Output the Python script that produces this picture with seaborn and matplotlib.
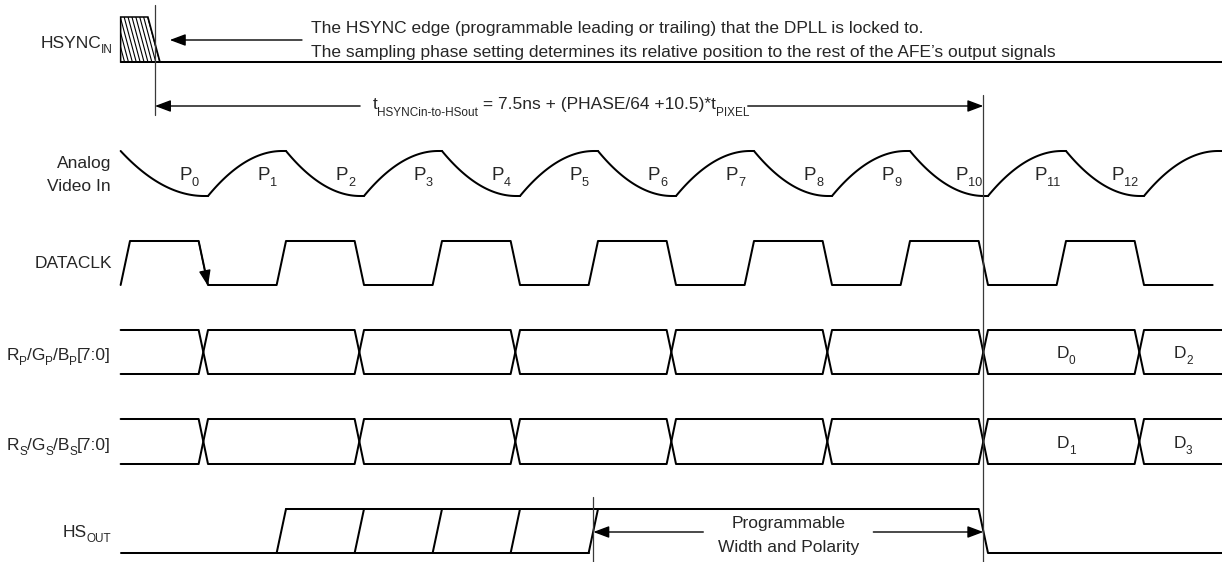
import numpy as np
import pandas as pd
import seaborn as sns
from matplotlib import pyplot as plt
from matplotlib.patches import Polygon
from matplotlib.transforms import IdentityTransform

# timing values, in pixel periods (t_PIXEL); P0 starts at t = 0
pixel_index = [0, 1, 2, 3, 4, 5, 6, 7, 8, 9, 10, 11, 12]
video_turns = [-0.12, 1, 2, 3, 4, 5, 6, 7, 8, 9, 10, 11, 12, 13, 14]
video_high = [1, 0, 1, 0, 1, 0, 1, 0, 1, 0, 1, 0, 1, 0, 1]
clk_rise = [0, 2, 4, 6, 8, 10, 12]
clk_fall = [1, 3, 5, 7, 9, 11, 13]
clk_stop = 13.88
bus_switch = [1, 3, 5, 7, 9, 11, 13]
bus_p_words = ["", "", "", "", "", "", "0", "2"]
bus_s_words = ["", "", "", "", "", "", "1", "3"]
hsout_rise = [2, 3, 4, 5, 6]
hsout_fall = 11
hsync_edge = 0.31

# layout (pixel rows) and drawing style
T0, T1 = -0.12, 14.0
EDGE = 0.12
FLAT = 0.05
rows = {
    "hsync": (17, 62),
    "video": (151, 196),
    "clk": (241, 285),
    "bus_p": (330, 374),
    "bus_s": (419, 464),
    "hsout": (509, 553),
}
LABEL_X = -0.245
FS = 12.5
SUB = 0.68

sns.set_theme(style="white")
plt.rcParams["font.family"] = ["Liberation Sans", "DejaVu Sans"]

fig = plt.figure(figsize=(12.22, 5.62), dpi=100)
ax = fig.add_axes([0, 0, 1, 1])
ax.set_xlim(-130 / 78, 14)
ax.set_ylim(562, 0)
ax.axis("off")

traces = []


def add(name, xs, ys):
    traces.append(pd.DataFrame({"x": xs, "y": ys, "trace": name}))


# analog video: arcs between turning points
hi, lo = rows["video"]
for i in range(len(video_turns) - 1):
    a = hi if video_high[i] else lo
    b = hi if video_high[i + 1] else lo
    x0, x1 = video_turns[i], video_turns[i + 1] - FLAT
    u = np.linspace(0, 1, 40)
    xs = list(x0 + (x1 - x0) * u) + [video_turns[i + 1]]
    ys = list(a + (b - a) * (1 - (1 - u) ** 2)) + [b]
    add(f"video{i}", xs, ys)

# dataclk
hi, lo = rows["clk"]
edges = sorted([(r, "r") for r in clk_rise] + [(f, "f") for f in clk_fall])
xs, ys = [T0], [lo]
for t, kind in edges:
    xs += [t - EDGE, t]
    ys += [lo, hi] if kind == "r" else [hi, lo]
xs.append(clk_stop)
ys.append(lo)
add("clk", xs, ys)

# data buses
for key in ["bus_p", "bus_s"]:
    hi, lo = rows[key]
    for start, other in [(hi, lo), (lo, hi)]:
        xs, ys = [T0], [start]
        cur, nxt = start, other
        for s in bus_switch:
            xs += [s - EDGE, s]
            ys += [cur, nxt]
            cur, nxt = nxt, cur
        xs.append(T1)
        ys.append(cur)
        add(f"{key}{start}", xs, ys)

# hs_out
hi, lo = rows["hsout"]
add("hs_low", [T0, hsout_rise[-1] - EDGE], [lo, lo])
add("hs_high", [hsout_rise[0], hsout_fall - EDGE, hsout_fall, T1], [hi, hi, lo, lo])
for r in hsout_rise:
    add(f"hs_rise{r}", [r - EDGE, r], [lo, hi])

# hsync_in baseline
add("hsync_base", [T0, T1], [rows["hsync"][1], rows["hsync"][1]])

wave = pd.concat(traces, ignore_index=True)
sns.lineplot(data=wave, x="x", y="y", units="trace", estimator=None, sort=False,
             color="black", linewidth=1.45, legend=False, ax=ax)

# hsync_in hatched edge window
top, base = rows["hsync"]
left_top, right_top, right_bot = T0, hsync_edge - 0.08, hsync_edge + 0.075
poly = Polygon([(left_top, top), (right_top, top), (right_bot, base), (left_top, base)],
               closed=True, fill=False, edgecolor="black", linewidth=1.1)
ax.add_patch(poly)
slant = right_bot - right_top
for xt in np.arange(left_top - slant, right_top, 0.05):
    ln, = ax.plot([xt, xt + slant], [top, base], color="black", lw=0.8)
    ln.set_clip_path(poly)

# reference lines
ref = "#3a3a3a"
ax.plot([hsync_edge + 0.01, hsync_edge + 0.01], [5, 115], color=ref, lw=0.9)
mark = hsout_fall - EDGE / 2
ax.plot([mark, mark], [95, 562], color=ref, lw=0.9)
mark2 = hsout_rise[-1] - EDGE / 2
ax.plot([mark2, mark2], [497, 562], color=ref, lw=0.9)

arrow = dict(arrowstyle="-|>,head_length=0.8,head_width=0.3", color="black",
             lw=1.0, shrinkA=0, shrinkB=0, mutation_scale=12)


def arr(x0, y0, x1, y1):
    ax.annotate("", xy=(x1, y1), xytext=(x0, y0), arrowprops=arrow)


arr(2.205, 40, hsync_edge + 0.2, 40)
arr(2.95, 106, hsync_edge + 0.01, 106)
arr(7.92, 106, mark, 106)
arr(7.35, 532, mark2, 532)
arr(9.53, 532, mark, 532)
hi, lo = rows["clk"]
arr(clk_fall[0] - EDGE, hi, clk_fall[0], lo + 1)

renderer = fig.canvas.get_renderer()


def rich(x, y, parts, ha="left", fs=FS, drop=6):
    # parts: (string, is_subscript); placed piece by piece in pixel space
    px, py = ax.transData.transform((x, y))
    items, widths = [], []
    for s, sub in parts:
        t = ax.text(0, 0, s, fontsize=fs * SUB if sub else fs, va="baseline",
                    transform=IdentityTransform())
        items.append((t, sub))
        widths.append(t.get_window_extent(renderer).width)
    total = sum(widths)
    cur = px - {"left": 0, "right": total, "center": total / 2}[ha]
    for (t, sub), w in zip(items, widths):
        t.set_position((cur, py - (drop if sub else 0)))
        cur += w


ax.text(2.32, 33, "The HSYNC edge (programmable leading or trailing) that the DPLL is locked to.",
        fontsize=FS, va="baseline")
ax.text(2.32, 57, "The sampling phase setting determines its relative position to the rest of the AFE\u2019s output signals",
        fontsize=FS, va="baseline")
rich(3.11, 109, [("t", 0), ("HSYNCin-to-HSout", 1), (" = 7.5ns + (PHASE/64 +10.5)*t", 0), ("PIXEL", 1)],
     drop=7)

rich(LABEL_X + 0.03, 48, [("HSYNC", 0), ("IN", 1)], ha="right", drop=5)
ax.text(LABEL_X, 168, "Analog", fontsize=FS, ha="right", va="baseline")
ax.text(LABEL_X, 191, "Video In", fontsize=FS, ha="right", va="baseline")
ax.text(LABEL_X + 0.02, 268, "DATACLK", fontsize=FS, ha="right", va="baseline")
for y, ch in [(360, "P"), (450, "S")]:
    rich(LABEL_X, y, [("R", 0), (ch, 1), ("/G", 0), (ch, 1), ("/B", 0), (ch, 1), ("[7:0]", 0)],
         ha="right", drop=5)
rich(LABEL_X, 537, [("HS", 0), ("OUT", 1)], ha="right", drop=5)

for k in pixel_index:
    rich(k + 0.76, 179.5, [("P", 0), (str(k), 1)], ha="center", fs=FS + 1, drop=6)

bounds = [T0] + bus_switch + [T1]
for words, key, base_y in [(bus_p_words, "bus_p", 358), (bus_s_words, "bus_s", 448)]:
    for i, w in enumerate(words):
        if w:
            cx = (bounds[i] + bounds[i + 1] - EDGE) / 2 + 0.06
            rich(cx, base_y, [("D", 0), (w, 1)], ha="center", drop=6)

cx = (mark + mark2) / 2
ax.text(cx, 528, "Programmable", fontsize=FS, ha="center", va="baseline")
ax.text(cx, 552, "Width and Polarity", fontsize=FS, ha="center", va="baseline")

fig.savefig("out.png", dpi=100, facecolor="white")
